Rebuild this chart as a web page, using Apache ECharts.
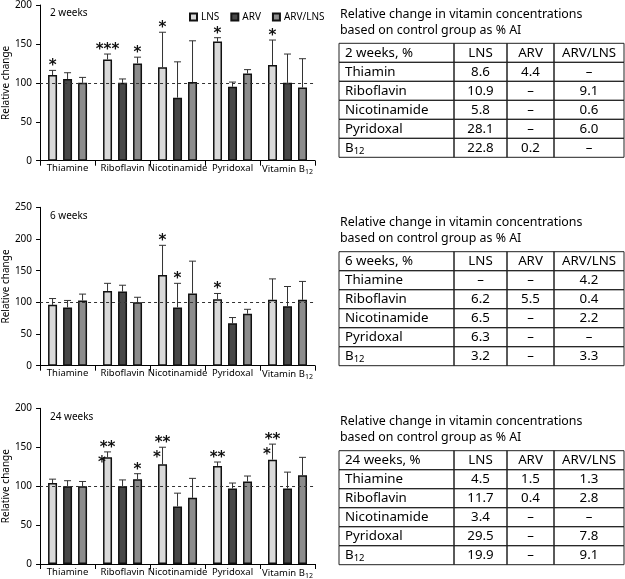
<!DOCTYPE html>
<html><head><meta charset="utf-8">
<script src="https://cdn.jsdelivr.net/npm/echarts@6/dist/echarts.min.js"></script>
<style>html,body{margin:0;padding:0;background:#fff}#c{width:625px;height:579px}</style>
</head><body><div id="c"></div>
<script>
// ---------------- data ----------------
const categories = ['Thiamine', 'Riboflavin', 'Nicotinamide', 'Pyridoxal', 'Vitamin B12'];
const groupNames = ['LNS', 'ARV', 'ARV/LNS'];
const weekLabels = ['2 weeks', '6 weeks', '24 weeks'];
const yMaxes = [200, 250, 200];
const yInterval = 50;
const refLine = 100;

// 2 weeks
const w2_LNS = [110, 130, 120, 153, 123];
const w2_ARV = [105, 100, 81, 95, 100];
const w2_ARVLNS = [100, 125, 101, 112, 94];
const w2_LNS_err = [116, 137, 165, 158, 155];
const w2_ARV_err = [113, 105, 127, 101, 137];
const w2_ARVLNS_err = [107, 133, 154, 117, 131];
const w2_LNS_sig = ['*', '***', '*', '*', '*'];
const w2_ARV_sig = ['', '', '', '', ''];
const w2_ARVLNS_sig = ['', '*', '', '', ''];
const w2_LNS_side = ['', '', '', '', ''];

// 6 weeks
const w6_LNS = [96, 118, 143, 105, 104];
const w6_ARV = [92, 117, 92, 67, 94];
const w6_ARVLNS = [103, 100, 114, 82, 104];
const w6_LNS_err = [106, 130, 190, 114, 137];
const w6_ARV_err = [103, 127, 130, 76, 125];
const w6_ARVLNS_err = [113, 108, 165, 89, 133];
const w6_LNS_sig = ['', '', '*', '*', ''];
const w6_ARV_sig = ['', '', '*', '', ''];
const w6_ARVLNS_sig = ['', '', '', '', ''];
const w6_LNS_side = ['', '', '', '', ''];

// 24 weeks
const w24_LNS = [104, 137, 128, 126, 134];
const w24_ARV = [100, 100, 74, 97, 97];
const w24_ARVLNS = [100, 109, 85, 106, 114];
const w24_LNS_err = [109, 144, 150, 131, 154];
const w24_ARV_err = [107, 108, 91, 104, 118];
const w24_ARVLNS_err = [106, 116, 110, 113, 137];
const w24_LNS_sig = ['', '**', '**', '**', '**'];
const w24_ARV_sig = ['', '', '', '', ''];
const w24_ARVLNS_sig = ['', '*', '', '', ''];
const w24_LNS_side = ['', '*', '*', '', '*'];

// tables
const tableTitle = 'Relative change in vitamin concentrations\nbased on control group as % AI';
const tableColumns = ['LNS', 'ARV', 'ARV/LNS'];
const t2_head = '2 weeks, %';
const t2_rows = ['Thiamin', 'Riboflavin', 'Nicotinamide', 'Pyridoxal', 'B12'];
const t2_LNS = ['8.6', '10.9', '5.8', '28.1', '22.8'];
const t2_ARV = ['4.4', '–', '–', '–', '0.2'];
const t2_ARVLNS = ['–', '9.1', '0.6', '6.0', '–'];

const t6_head = '6 weeks, %';
const t6_rows = ['Thiamine', 'Riboflavin', 'Nicotinamide', 'Pyridoxal', 'B12'];
const t6_LNS = ['–', '6.2', '6.5', '6.3', '3.2'];
const t6_ARV = ['–', '5.5', '–', '–', '–'];
const t6_ARVLNS = ['4.2', '0.4', '2.2', '–', '3.3'];

const t24_head = '24 weeks, %';
const t24_rows = ['Thiamine', 'Riboflavin', 'Nicotinamide', 'Pyridoxal', 'B12'];
const t24_LNS = ['4.5', '11.7', '3.4', '29.5', '19.9'];
const t24_ARV = ['1.5', '0.4', '–', '–', '–'];
const t24_ARVLNS = ['1.3', '2.8', '–', '7.8', '9.1'];

// ---------------- layout / style ----------------
const FONT = 'Noto Sans';
const STAR_FONT = 'bold 15px DejaVu Sans';
const colors = ['#d9d9d9', '#474747', '#8c8c8c'];
const BAR_W = 9, BAR_GAP = 6;
const gridTops = [4.7, 207.3, 408.3];
const gridHeights = [156, 158.4, 156.7];
const tableTops = [43.3, 251.7, 450.7];
const ROW_H = 19;
const colEdges = [0, 115, 168, 215, 285];

const panels = [
  { vals: [w2_LNS, w2_ARV, w2_ARVLNS], errs: [w2_LNS_err, w2_ARV_err, w2_ARVLNS_err],
    sig: [w2_LNS_sig, w2_ARV_sig, w2_ARVLNS_sig], side: w2_LNS_side },
  { vals: [w6_LNS, w6_ARV, w6_ARVLNS], errs: [w6_LNS_err, w6_ARV_err, w6_ARVLNS_err],
    sig: [w6_LNS_sig, w6_ARV_sig, w6_ARVLNS_sig], side: w6_LNS_side },
  { vals: [w24_LNS, w24_ARV, w24_ARVLNS], errs: [w24_LNS_err, w24_ARV_err, w24_ARVLNS_err],
    sig: [w24_LNS_sig, w24_ARV_sig, w24_ARVLNS_sig], side: w24_LNS_side }
];
const tables = [
  { head: t2_head, rows: t2_rows, cols: [t2_LNS, t2_ARV, t2_ARVLNS] },
  { head: t6_head, rows: t6_rows, cols: [t6_LNS, t6_ARV, t6_ARVLNS] },
  { head: t24_head, rows: t24_rows, cols: [t24_LNS, t24_ARV, t24_ARVLNS] }
];

const grid = [], xAxis = [], yAxis = [], series = [], title = [];

panels.forEach((p, k) => {
  grid.push({ left: 37, width: 278, top: gridTops[k], height: gridHeights[k] });
  xAxis.push({
    type: 'category', gridIndex: k, data: categories,
    axisLine: { lineStyle: { color: '#000', width: 1 } },
    axisTick: { show: true, length: 5, lineStyle: { color: '#000' } },
    axisLabel: {
      color: '#000', fontSize: 9.5, fontFamily: FONT, margin: 3, interval: 0,
      formatter: v => v === 'Vitamin B12' ? 'Vitamin B{sub|12}' : v,
      rich: { sub: { fontSize: 7, fontFamily: FONT, color: '#000', padding: [5, 0, 0, 0] } }
    }
  });
  yAxis.push({
    type: 'value', gridIndex: k, min: 0, max: yMaxes[k], interval: yInterval,
    name: 'Relative change', nameLocation: 'middle', nameGap: 27, nameRotate: 90,
    nameTextStyle: { fontSize: 10, fontFamily: FONT, color: '#000' },
    splitLine: { show: false },
    axisLine: { show: true, lineStyle: { color: '#000', width: 1 } },
    axisTick: { show: true, length: 4, lineStyle: { color: '#000' } },
    axisLabel: { color: '#000', fontSize: 10, fontFamily: FONT, margin: 8 }
  });
  // reference dashed line behind the bars
  series.push({
    type: 'line', xAxisIndex: k, yAxisIndex: k, data: [], z: 1, silent: true,
    markLine: {
      silent: true, symbol: 'none', label: { show: false },
      lineStyle: { type: [3, 3], color: '#333', width: 1 },
      data: [{ yAxis: refLine }]
    }
  });
  groupNames.forEach((name, s) => {
    series.push({
      type: 'bar', name, xAxisIndex: k, yAxisIndex: k, data: p.vals[s], z: 2,
      barWidth: BAR_W, barGap: (BAR_GAP / BAR_W * 100) + '%',
      itemStyle: { color: colors[s], borderColor: '#111', borderWidth: 1.5 },
      emphasis: { disabled: true }
    });
  });
  // error bars + significance marks
  const recs = [];
  groupNames.forEach((name, s) => {
    categories.forEach((c, i) => {
      recs.push({ cat: i, s, bar: p.vals[s][i], err: p.errs[s][i], sig: p.sig[s][i], side: s === 0 ? p.side[i] : '' });
    });
  });
  series.push({
    type: 'custom', xAxisIndex: k, yAxisIndex: k, z: 3, silent: true,
    data: recs.map(r => [r.cat, r.err, r.bar]),
    encode: { x: 0, y: [1, 2] },
    renderItem: (params, api) => {
      const r = recs[params.dataIndex];
      const top = api.coord([r.cat, r.err]);
      const base = api.coord([r.cat, r.bar]);
      const x = top[0] + (r.s - 1) * (BAR_W + BAR_GAP);
      const children = [
        { type: 'line', shape: { x1: x, y1: base[1], x2: x, y2: top[1] }, style: { stroke: '#333', lineWidth: 1 } },
        { type: 'line', shape: { x1: x - 3.5, y1: top[1], x2: x + 3.5, y2: top[1] }, style: { stroke: '#333', lineWidth: 1 } }
      ];
      if (r.sig) children.push({ type: 'text', style: { text: r.sig, x: x, y: top[1] + 3.5, align: 'center', verticalAlign: 'bottom', font: STAR_FONT, fill: '#111' } });
      if (r.side) children.push({ type: 'text', style: { text: r.side, x: x - BAR_W / 2 - 1, y: top[1] + 11, align: 'center', verticalAlign: 'middle', font: STAR_FONT, fill: '#111' } });
      return { type: 'group', children };
    }
  });
  title.push({ text: weekLabels[k], left: 50, top: gridTops[k] + 3.5, padding: 0, textStyle: { fontSize: 10, fontWeight: 'normal', fontFamily: FONT, color: '#000' } });
});

// tables
tables.forEach((t, j) => {
  const g = 3 + j;
  grid.push({ left: 339, width: 285, top: tableTops[j], height: ROW_H * 6 });
  xAxis.push({ type: 'value', gridIndex: g, min: 0, max: 285, show: false });
  yAxis.push({ type: 'value', gridIndex: g, min: 0, max: 6, inverse: true, show: false });
  const cells = [];
  cells.push({ c: 0, r: 0, text: t.head });
  tableColumns.forEach((h, ci) => cells.push({ c: ci + 1, r: 0, text: h }));
  t.rows.forEach((rn, ri) => {
    cells.push({ c: 0, r: ri + 1, text: rn === 'B12' ? 'B{sub|12}' : rn });
    t.cols.forEach((col, ci) => cells.push({ c: ci + 1, r: ri + 1, text: col[ri] }));
  });
  series.push({
    type: 'custom', xAxisIndex: g, yAxisIndex: g, silent: true, clip: false,
    data: cells.map(c => [colEdges[c.c], c.r]),
    renderItem: (params, api) => {
      const c = cells[params.dataIndex];
      const p0 = api.coord([colEdges[c.c], c.r]);
      const p1 = api.coord([colEdges[c.c + 1], c.r + 1]);
      const left = c.c === 0;
      return {
        type: 'group', children: [
          { type: 'rect', shape: { x: p0[0], y: p0[1], width: p1[0] - p0[0], height: p1[1] - p0[1] }, style: { fill: 'none', stroke: '#222', lineWidth: 1 } },
          { type: 'text', style: {
              text: c.text, x: left ? p0[0] + 6 : (p0[0] + p1[0]) / 2, y: (p0[1] + p1[1]) / 2 + 0.5,
              align: left ? 'left' : 'center', verticalAlign: 'middle',
              font: '13.3px ' + FONT, fill: '#000',
              rich: { sub: { fontSize: 9.5, fontFamily: FONT, fill: '#000', padding: [6, 0, 0, 0] } }
          } }
        ]
      };
    }
  });
  title.push({ text: tableTitle, left: 340, top: tableTops[j] - 37, padding: 0, textStyle: { fontSize: 12.4, fontWeight: 'normal', fontFamily: FONT, color: '#000', lineHeight: 16 } });
});

const chart = echarts.init(document.getElementById('c'), null, { renderer: 'canvas' });
chart.setOption({
  animation: false,
  backgroundColor: '#fff',
  title,
  legend: {
    data: groupNames, left: 184, top: 7, itemWidth: 7, itemHeight: 7, itemGap: 11,
    icon: 'rect', textStyle: { fontSize: 10, fontFamily: FONT, color: '#000', padding: [0, 0, 0, -1] },
    selectedMode: false
  },
  grid, xAxis, yAxis, series
});
</script></body></html>
